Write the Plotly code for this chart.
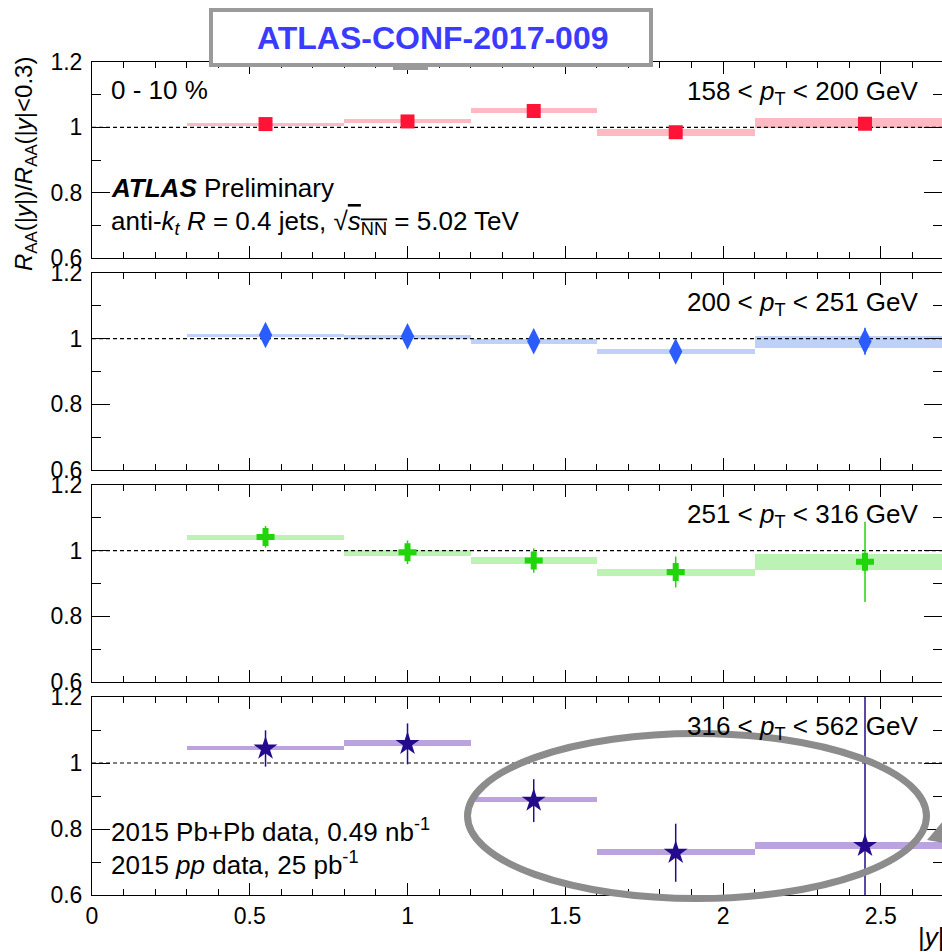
import plotly.graph_objects as go
from plotly.subplots import make_subplots

# ---------------- data ----------------
BIN_EDGES = [0.3, 0.8, 1.2, 1.6, 2.1, 2.8]
PT_LABELS = ["158 < <i>p</i><sub>T</sub> < 200 GeV",
             "200 < <i>p</i><sub>T</sub> < 251 GeV",
             "251 < <i>p</i><sub>T</sub> < 316 GeV",
             "316 < <i>p</i><sub>T</sub> < 562 GeV"]

ratio_158 = [1.010, 1.018, 1.050, 0.985, 1.011]
stat_158 = [0.008, 0.008, 0.008, 0.010, 0.012]
sys_lo_158 = [1.003, 1.012, 1.043, 0.974, 0.997]
sys_hi_158 = [1.013, 1.025, 1.058, 0.995, 1.028]

ratio_200 = [1.011, 1.007, 0.992, 0.961, 0.992]
stat_200 = [0.028, 0.027, 0.027, 0.025, 0.041]
sys_lo_200 = [1.004, 1.000, 0.985, 0.953, 0.973]
sys_hi_200 = [1.015, 1.012, 1.000, 0.969, 1.009]

ratio_251 = [1.042, 0.995, 0.970, 0.935, 0.966]
stat_251 = [0.033, 0.036, 0.037, 0.047, 0.122]
sys_lo_251 = [1.031, 0.985, 0.960, 0.924, 0.940]
sys_hi_251 = [1.049, 1.001, 0.981, 0.944, 0.991]

ratio_316 = [1.044, 1.058, 0.886, 0.728, 0.749]
stat_316 = [0.055, 0.062, 0.065, 0.088, 0.600]
sys_lo_316 = [1.039, 1.052, 0.883, 0.721, 0.739]
sys_hi_316 = [1.052, 1.070, 0.898, 0.739, 0.761]

REFERENCE_LEVEL = 1.0
X_MIN, X_MAX = 0.0, 2.694
Y_MIN, Y_MAX = 0.6, 1.2
Y_TICKS = [0.6, 0.8, 1.0, 1.2]
Y_TICK_TEXT = ["0.6", "0.8", "1", "1.2"]

panels = [
    dict(ratio=ratio_158, stat=stat_158, lo=sys_lo_158, hi=sys_hi_158,
         mcol="#ff1438", bcol="#ffb9c3", symbol="square", size=14),
    dict(ratio=ratio_200, stat=stat_200, lo=sys_lo_200, hi=sys_hi_200,
         mcol="#2b5cff", bcol="#bfd1f9", symbol="diamond-tall", size=19),
    dict(ratio=ratio_251, stat=stat_251, lo=sys_lo_251, hi=sys_hi_251,
         mcol="#22d40c", bcol="#bdf2b5", symbol="cross", size=15),
    dict(ratio=ratio_316, stat=stat_316, lo=sys_lo_316, hi=sys_hi_316,
         mcol="#230b8c", bcol="#bba3e0", symbol="star", size=18),
]

centers = [(a + b) / 2 for a, b in zip(BIN_EDGES[:-1], BIN_EDGES[1:])]
widths = [b - a for a, b in zip(BIN_EDGES[:-1], BIN_EDGES[1:])]

# ---------------- layout geometry (pixels) ----------------
W, H = 942, 952
L, R, T, B = 92, 0, 62, 57
PW, PH = W - L - R, H - T - B
panel_px = [(62, 258), (273, 470), (485, 682), (697, 895)]


def px_x(px):
    return (px - L) / PW


def px_y(py):
    return (H - B - py) / PH


FONT = "Liberation Sans, Arial, Helvetica, sans-serif"
TXT = 26

fig = make_subplots(rows=4, cols=1, shared_xaxes=True, vertical_spacing=0.02)

for i, p in enumerate(panels):
    row = i + 1
    fig.add_trace(go.Bar(
        x=centers, width=widths, base=p["lo"],
        y=[h - l for h, l in zip(p["hi"], p["lo"])],
        marker=dict(color=p["bcol"], line=dict(width=0)),
        showlegend=False, hoverinfo="skip"), row=row, col=1)
    fig.add_trace(go.Scatter(
        x=[X_MIN, X_MAX], y=[REFERENCE_LEVEL, REFERENCE_LEVEL], mode="lines",
        line=dict(color="black", width=1.2, dash="4px,3px"),
        showlegend=False, hoverinfo="skip"), row=row, col=1)
    fig.add_trace(go.Scatter(
        x=centers, y=p["ratio"], mode="markers",
        marker=dict(symbol=p["symbol"], size=p["size"], color=p["mcol"],
                    line=dict(width=0)),
        error_y=dict(type="data", array=p["stat"], color=p["mcol"],
                     thickness=1.5, width=0),
        showlegend=False), row=row, col=1)

fig.update_layout(barmode="overlay", bargap=0)

for i in range(4):
    top, bot = panel_px[i]
    yname = "yaxis" if i == 0 else f"yaxis{i+1}"
    xname = "xaxis" if i == 0 else f"xaxis{i+1}"
    fig.layout[yname].update(
        domain=[px_y(bot), px_y(top)], range=[Y_MIN, Y_MAX],
        tickvals=Y_TICKS, ticktext=Y_TICK_TEXT,
        ticks="inside", ticklen=18, tickwidth=1, tickcolor="black",
        minor=dict(dtick=0.1, ticks="inside", ticklen=9, tickcolor="black", tick0=0.6),
        showline=True, linecolor="black", linewidth=1, mirror="ticks",
        showgrid=False, zeroline=False,
        tickfont=dict(family=FONT, size=23, color="black"),
        ticklabelstandoff=4)
    fig.layout[xname].update(
        domain=[0, 1], range=[X_MIN, X_MAX],
        tick0=0, dtick=0.5, ticks="inside", ticklen=12, tickwidth=1,
        tickcolor="black",
        minor=dict(dtick=0.1, ticks="inside", ticklen=6, tickcolor="black"),
        showline=True, linecolor="black", linewidth=1, mirror="ticks",
        showgrid=False, zeroline=False, showticklabels=(i == 3),
        tickfont=dict(family=FONT, size=23, color="black"))

annotations = []


def txt(text, xpx, ypx, xanchor="left", size=TXT, color="black", **kw):
    annotations.append(dict(
        text=text, x=px_x(xpx), y=px_y(ypx), xref="paper", yref="paper",
        xanchor=xanchor, yanchor="middle", showarrow=False,
        font=dict(family=FONT, size=size, color=color), **kw))


txt("0 - 10 %", 109, 90)
for i, lab in enumerate(PT_LABELS):
    txt(lab, 921, panel_px[i][0] + 30, xanchor="right")
txt("<b><i>ATLAS</i></b> Preliminary", 109, 188)
txt("anti-<i>k</i><sub><i>t</i></sub> <i>R</i> = 0.4 jets, "
    "√<span style='text-decoration:overline'><i>s</i><sub>NN</sub></span> = 5.02 TeV", 109, 223)
txt("2015 Pb+Pb data, 0.49 nb<sup>-1</sup>", 109, 830)
txt("2015 <i>pp</i> data, 25 pb<sup>-1</sup>", 109, 863)
txt("|<i>y</i>|", 916, 937, size=26)
txt("<i>R</i><sub>AA</sub>(|<i>y</i>|)/<i>R</i><sub>AA</sub>(|<i>y</i>|&lt;0.3)",
    25, 164, xanchor="center", size=24, textangle=-90)
txt("<b>ATLAS-CONF-2017-009</b>", 432, 38, xanchor="center", size=32,
    color="#3b3bff")

shapes = [
    dict(type="rect", xref="paper", yref="paper",
         x0=px_x(393), x1=px_x(428), y0=px_y(70), y1=px_y(64),
         fillcolor="#9a9a9a", line=dict(width=0), layer="above"),
    dict(type="rect", xref="paper", yref="paper",
         x0=px_x(211), x1=px_x(651), y0=px_y(65), y1=px_y(10),
         fillcolor="white", line=dict(color="#9a9a9a", width=4), layer="above"),
    dict(type="circle", xref="paper", yref="paper",
         x0=px_x(467.5), x1=px_x(926.5), y0=px_y(898.5), y1=px_y(733.5),
         line=dict(color="#8c8c8c", width=7), fillcolor="rgba(0,0,0,0)",
         layer="above"),
    dict(type="path", xref="paper", yref="paper",
         path=(f"M {px_x(927)},{px_y(840)} L {px_x(944)},{px_y(820)} "
               f"L {px_x(944)},{px_y(843)} Z"),
         fillcolor="#8c8c8c", line=dict(width=0), layer="above"),
]

fig.update_layout(
    width=W, height=H, margin=dict(l=L, r=R, t=T, b=B, pad=0),
    paper_bgcolor="white", plot_bgcolor="white",
    annotations=annotations, shapes=shapes, showlegend=False,
    font=dict(family=FONT, color="black"),
)

fig.write_html("out.html")
